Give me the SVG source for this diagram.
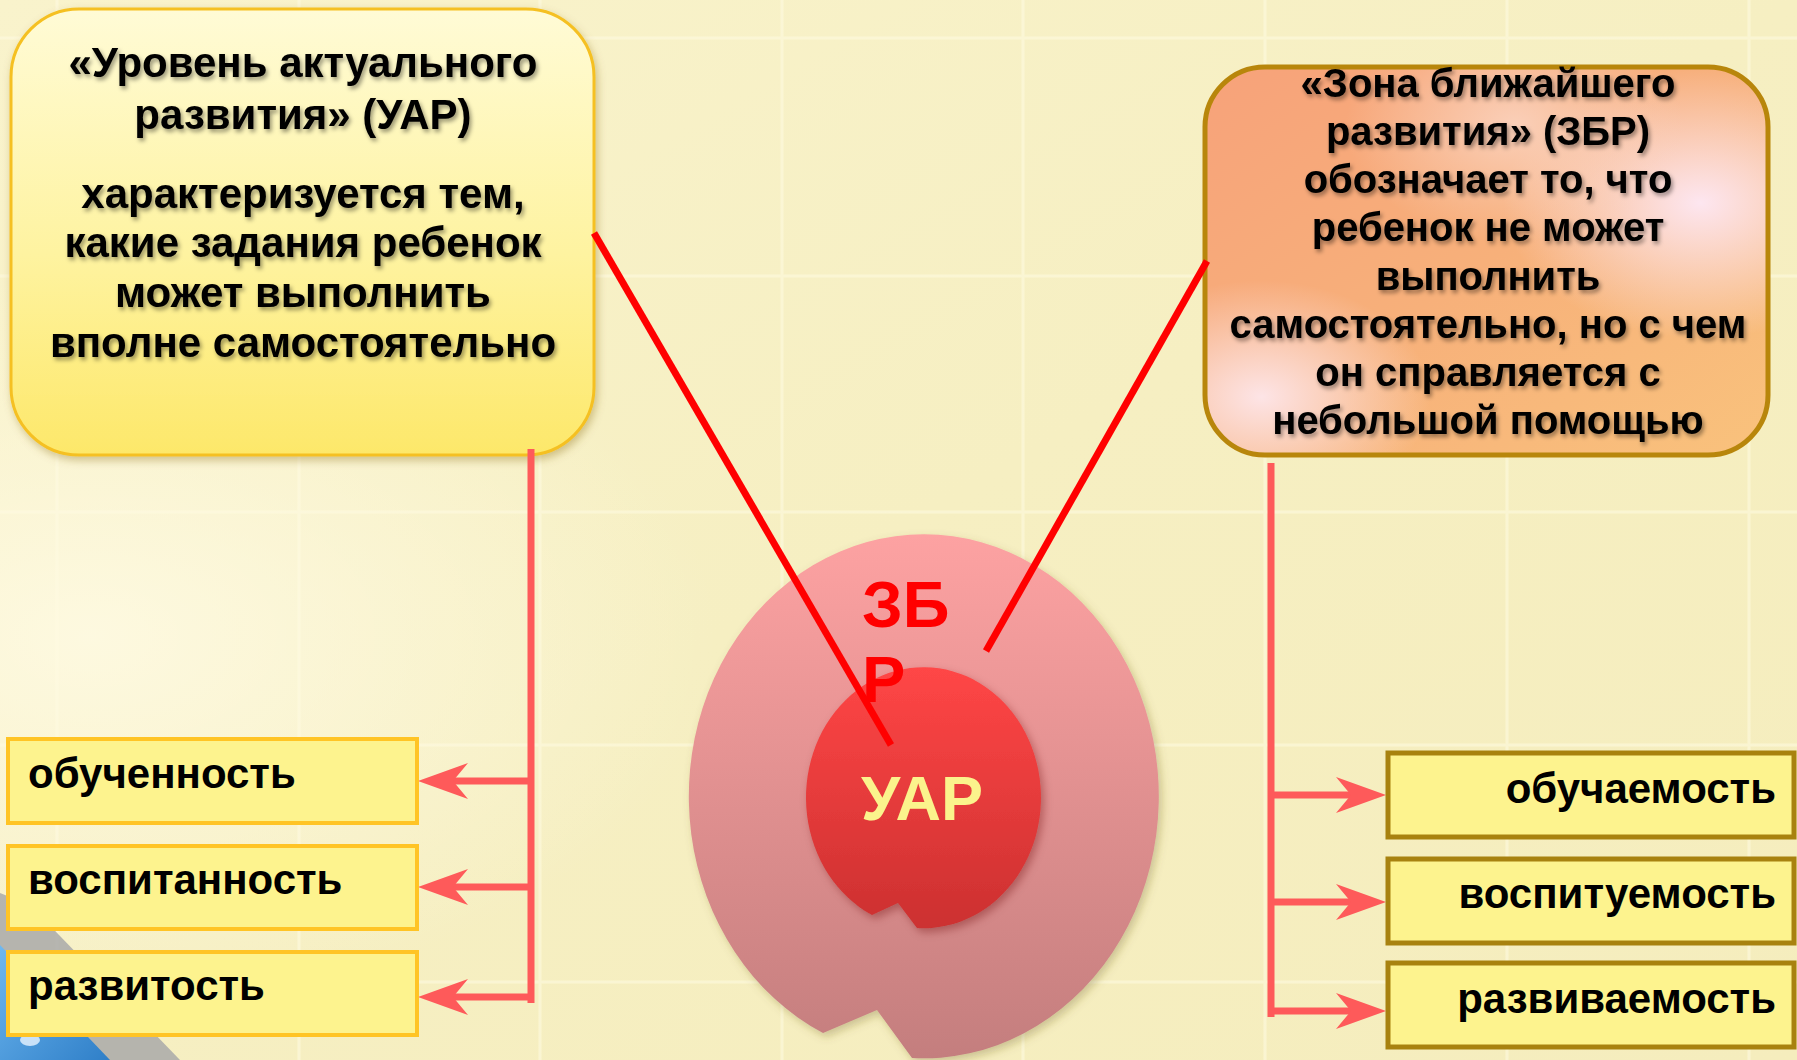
<svg xmlns="http://www.w3.org/2000/svg" width="1797" height="1060" viewBox="0 0 1797 1060">
  <defs>
    <style>
      .t { font-family: "Liberation Sans", Arial, sans-serif; font-weight: bold; }
      .big { font-size: 42px; fill: #000; text-anchor: middle; }
      .zbr { font-size: 40px; fill: #000; text-anchor: middle; }
      .lbl { font-size: 42px; fill: #000; }
      .conn { stroke: #fe5a5a; stroke-width: 7; fill: none; }
      .red { stroke: #ff0000; stroke-width: 7; fill: none; }
      .lbox { fill: #fdf38e; stroke: #ffc425; stroke-width: 4; }
      .rbox { fill: #fdf38e; stroke: #a8820f; stroke-width: 5; }
      .grid { stroke: #fffbe2; stroke-width: 3; opacity: 0.55; }
    </style>
    <linearGradient id="bg" x1="0" y1="0" x2="1" y2="1">
      <stop offset="0" stop-color="#f9f3cc"/>
      <stop offset="0.5" stop-color="#f6efc2"/>
      <stop offset="1" stop-color="#f5edbd"/>
    </linearGradient>
    <radialGradient id="bgLight" cx="0.05" cy="0.6" r="0.35">
      <stop offset="0" stop-color="#fffbe6" stop-opacity="0.8"/>
      <stop offset="1" stop-color="#fffbe6" stop-opacity="0"/>
    </radialGradient>
    <linearGradient id="uarBox" x1="0" y1="0" x2="0" y2="1">
      <stop offset="0" stop-color="#fffbd6"/>
      <stop offset="0.55" stop-color="#fef3a0"/>
      <stop offset="1" stop-color="#fde86a"/>
    </linearGradient>
    <linearGradient id="zbrBase" x1="0" y1="0" x2="1" y2="1">
      <stop offset="0" stop-color="#f7a27a"/>
      <stop offset="0.5" stop-color="#f7b07a"/>
      <stop offset="1" stop-color="#f9c27c"/>
    </linearGradient>
    <radialGradient id="zbrHi1" cx="0.88" cy="0.35" r="0.35">
      <stop offset="0" stop-color="#fde6f0" stop-opacity="1"/>
      <stop offset="1" stop-color="#fde6f0" stop-opacity="0"/>
    </radialGradient>
    <radialGradient id="zbrHi2" cx="0.1" cy="0.85" r="0.3">
      <stop offset="0" stop-color="#fde4e6" stop-opacity="1"/>
      <stop offset="1" stop-color="#fde4e6" stop-opacity="0"/>
    </radialGradient>
    <radialGradient id="zbrHi3" cx="0.55" cy="0.15" r="0.3">
      <stop offset="0" stop-color="#fbd8c8" stop-opacity="0.8"/>
      <stop offset="1" stop-color="#fbd8c8" stop-opacity="0"/>
    </radialGradient>
    <linearGradient id="outerG" x1="0" y1="0" x2="0" y2="1">
      <stop offset="0" stop-color="#fda2a2"/>
      <stop offset="1" stop-color="#c47e7e"/>
    </linearGradient>
    <linearGradient id="innerG" x1="0" y1="0" x2="0" y2="1">
      <stop offset="0" stop-color="#ff4646"/>
      <stop offset="1" stop-color="#cc3030"/>
    </linearGradient>
    <linearGradient id="blueG" x1="0" y1="0" x2="1" y2="1">
      <stop offset="0" stop-color="#6fb8f0"/>
      <stop offset="1" stop-color="#2f7fc8"/>
    </linearGradient>
    <filter id="txtShadow" x="-5%" y="-20%" width="110%" height="140%">
      <feDropShadow dx="2" dy="3" stdDeviation="2" flood-color="#000" flood-opacity="0.4"/>
    </filter>
    <filter id="boxShadow" x="-5%" y="-5%" width="115%" height="115%">
      <feDropShadow dx="2" dy="4" stdDeviation="4" flood-color="#806000" flood-opacity="0.35"/>
    </filter>
    <filter id="circShadow" x="-10%" y="-10%" width="125%" height="125%">
      <feDropShadow dx="3" dy="4" stdDeviation="4" flood-color="#600" flood-opacity="0.35"/>
    </filter>
    <filter id="outerShadow" x="-10%" y="-10%" width="125%" height="125%">
      <feDropShadow dx="3" dy="4" stdDeviation="4" flood-color="#6a5a20" flood-opacity="0.3"/>
    </filter>
    <marker id="arr" markerUnits="userSpaceOnUse" markerWidth="60" markerHeight="44" refX="16" refY="22" orient="auto" viewBox="0 0 60 44">
      <path d="M51,22 L1,4 L16,22 L1,40 Z" fill="#fe5a5a"/>
    </marker>
  </defs>

  <!-- background -->
  <rect x="0" y="0" width="1797" height="1060" fill="url(#bg)"/>
  <rect x="0" y="0" width="1797" height="1060" fill="url(#bgLight)"/>
  <g class="grid">
    <line x1="57" y1="0" x2="57" y2="1060"/>
    <line x1="299" y1="0" x2="299" y2="1060"/>
    <line x1="540" y1="0" x2="540" y2="1060"/>
    <line x1="782" y1="0" x2="782" y2="1060"/>
    <line x1="1023" y1="0" x2="1023" y2="1060"/>
    <line x1="1265" y1="0" x2="1265" y2="1060"/>
    <line x1="1507" y1="0" x2="1507" y2="1060"/>
    <line x1="1749" y1="0" x2="1749" y2="1060"/>
    <line x1="0" y1="38" x2="1797" y2="38"/>
    <line x1="0" y1="276" x2="1797" y2="276"/>
    <line x1="0" y1="512" x2="1797" y2="512"/>
    <line x1="0" y1="745" x2="1797" y2="745"/>
    <line x1="0" y1="982" x2="1797" y2="982"/>
  </g>

  <!-- decorative corner -->
  <path d="M0,893 L30,905 L180,1060 L100,1060 L0,960 Z" fill="#a9a9a9" opacity="0.85"/>
  <path d="M0,945 L110,1060 L0,1060 Z" fill="url(#blueG)"/>
  <ellipse cx="30" cy="1040" rx="10" ry="6" fill="#e8f4ff" opacity="0.8"/>

  <!-- central ZBR / UAR shape -->
  <g id="zbr-circle">
    <path d="M912,1058 L877,1010 L823,1033 A235 262 0 1 1 912,1058 Z" fill="url(#outerG)" filter="url(#outerShadow)"/>
  </g>
  <g id="uar-circle">
    <path d="M917,928 L898,903 L872,915 A117.5 130.5 0 1 1 917,928 Z" fill="url(#innerG)" filter="url(#circShadow)"/>
    <text class="t" x="922" y="820" font-size="63" fill="#fbf38c" text-anchor="middle">УАР</text>
  </g>
  <g id="zbr-label">
    <text class="t" x="862" y="627" font-size="65" fill="#ff0000">ЗБ</text>
    <text class="t" x="862" y="702" font-size="65" fill="#ff0000">Р</text>
  </g>

  <!-- top left box -->
  <g id="uar-box">
    <rect x="11" y="9" width="583" height="446" rx="68" ry="68" fill="url(#uarBox)" stroke="#f5c020" stroke-width="3" filter="url(#boxShadow)"/>
    <g class="t big" filter="url(#txtShadow)">
      <text x="303" y="77">«Уровень актуального</text>
      <text x="303" y="129">развития» (УАР)</text>
      <text x="303" y="208">характеризуется тем,</text>
      <text x="303" y="257">какие задания ребенок</text>
      <text x="303" y="307">может выполнить</text>
      <text x="303" y="357">вполне самостоятельно</text>
    </g>
  </g>

  <!-- top right box -->
  <g id="zbr-box">
    <rect x="1205" y="67" width="563" height="388" rx="60" ry="60" fill="url(#zbrBase)"/>
    <rect x="1205" y="67" width="563" height="388" rx="60" ry="60" fill="url(#zbrHi1)"/>
    <rect x="1205" y="67" width="563" height="388" rx="60" ry="60" fill="url(#zbrHi2)"/>
    <rect x="1205" y="67" width="563" height="388" rx="60" ry="60" fill="url(#zbrHi3)" stroke="#b8860b" stroke-width="5"/>
    <g class="t zbr" filter="url(#txtShadow)">
      <text x="1488" y="97">«Зона ближайшего</text>
      <text x="1488" y="145">развития» (ЗБР)</text>
      <text x="1488" y="193">обозначает  то, что</text>
      <text x="1488" y="241">ребенок не может</text>
      <text x="1488" y="290">выполнить</text>
      <text x="1488" y="338">самостоятельно, но с чем</text>
      <text x="1488" y="386">он справляется с</text>
      <text x="1488" y="434">небольшой помощью</text>
    </g>
  </g>

  <!-- connectors -->
  <g id="connectors">
    <line class="red" x1="594" y1="233" x2="891" y2="745"/>
    <line class="red" x1="1207" y1="261" x2="986" y2="651"/>
    <line class="conn" x1="531" y1="449" x2="531" y2="1003"/>
    <line class="conn" x1="534" y1="781" x2="453" y2="781" marker-end="url(#arr)"/>
    <line class="conn" x1="534" y1="887" x2="453" y2="887" marker-end="url(#arr)"/>
    <line class="conn" x1="534" y1="997" x2="453" y2="997" marker-end="url(#arr)"/>
    <line class="conn" x1="1271" y1="463" x2="1271" y2="1017"/>
    <line class="conn" x1="1268" y1="795" x2="1351" y2="795" marker-end="url(#arr)"/>
    <line class="conn" x1="1268" y1="902" x2="1351" y2="902" marker-end="url(#arr)"/>
    <line class="conn" x1="1268" y1="1011" x2="1351" y2="1011" marker-end="url(#arr)"/>
  </g>

  <!-- left small boxes -->
  <g id="obuchennost">
    <rect class="lbox" x="8" y="739" width="409" height="84"/>
    <text class="t lbl" x="28" y="788">обученность</text>
  </g>
  <g id="vospitannost">
    <rect class="lbox" x="8" y="846" width="409" height="83"/>
    <text class="t lbl" x="28" y="894">воспитанность</text>
  </g>
  <g id="razvitost">
    <rect class="lbox" x="8" y="952" width="409" height="83"/>
    <text class="t lbl" x="28" y="1000">развитость</text>
  </g>

  <!-- right small boxes -->
  <g id="obuchaemost">
    <rect class="rbox" x="1388" y="753" width="406" height="84"/>
    <text class="t lbl" x="1776" y="803" text-anchor="end">обучаемость</text>
  </g>
  <g id="vospituemost">
    <rect class="rbox" x="1388" y="859" width="406" height="84"/>
    <text class="t lbl" x="1776" y="908" text-anchor="end">воспитуемость</text>
  </g>
  <g id="razvivaemost">
    <rect class="rbox" x="1388" y="963" width="406" height="84"/>
    <text class="t lbl" x="1776" y="1013" text-anchor="end">развиваемость</text>
  </g>
</svg>
